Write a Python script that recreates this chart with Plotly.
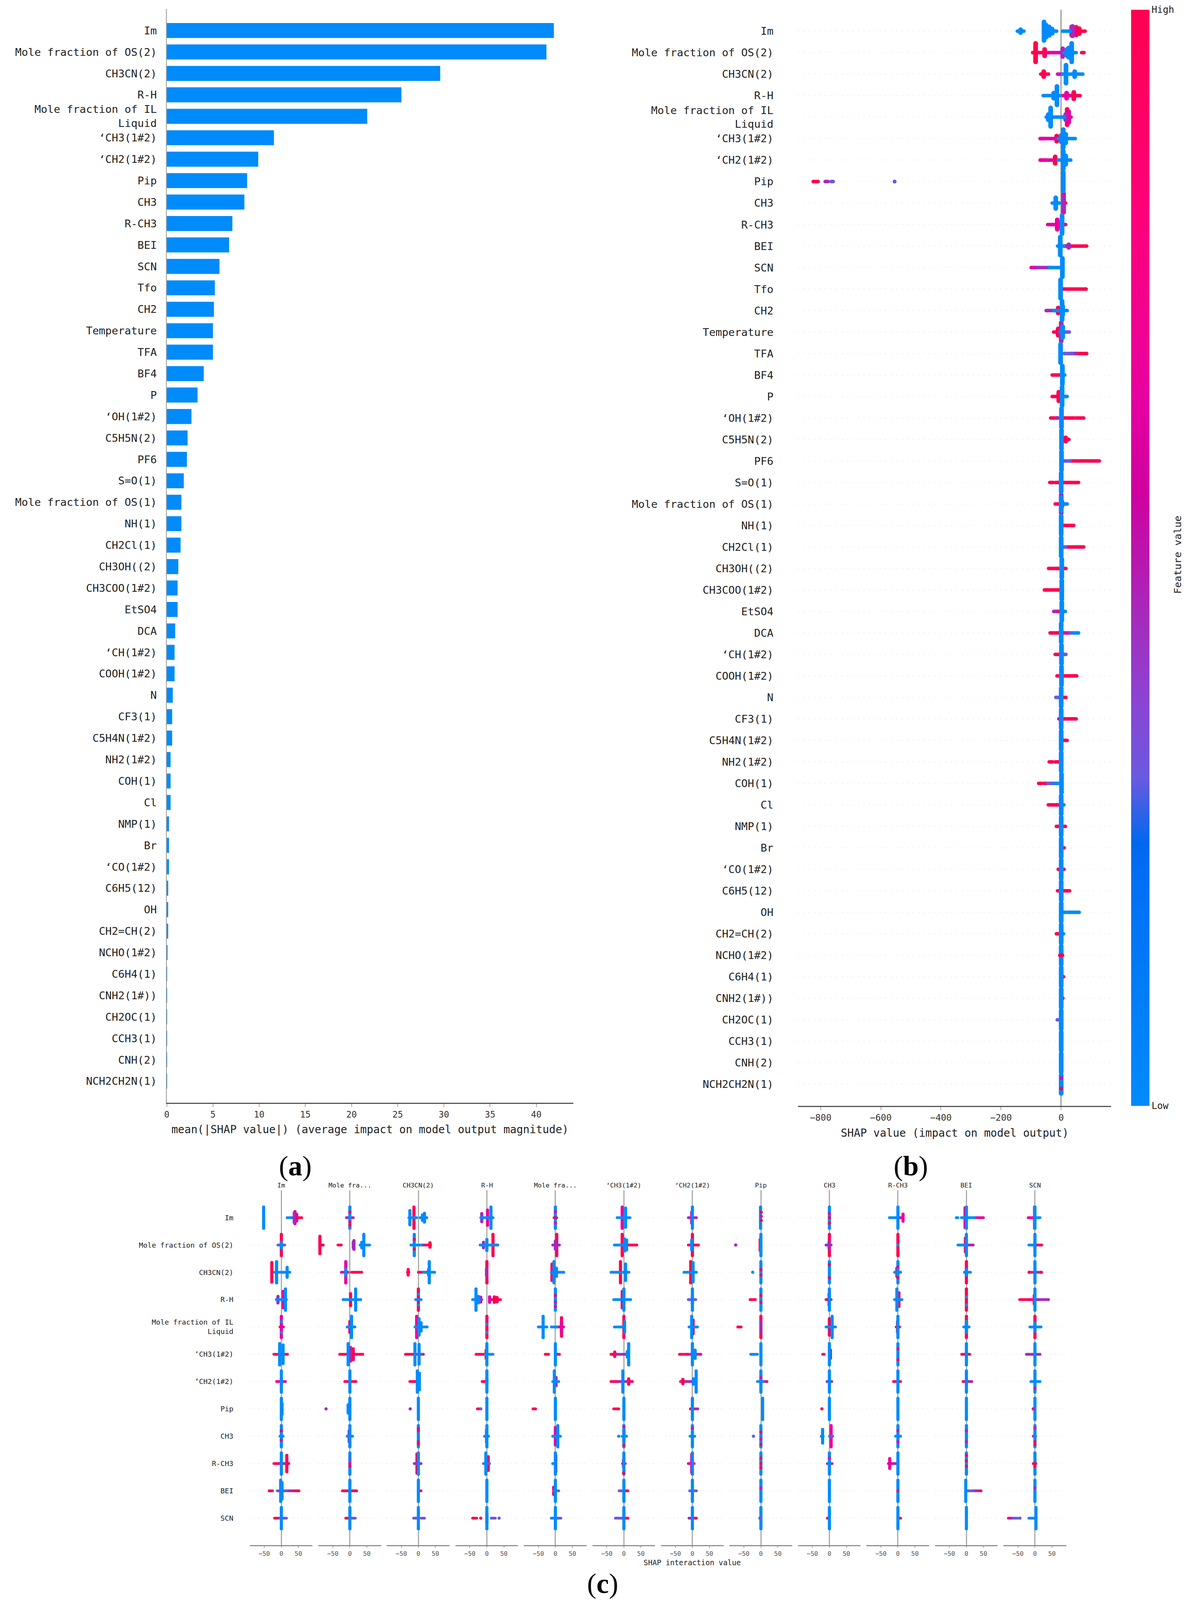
import plotly.graph_objects as go
import plotly.colors as pc

# reference size: every domain below is a fraction of this, the page itself fills the window
W, H = 3057, 5636
MONO = "DejaVu Sans Mono"
SERIF = "Liberation Serif"
BLUE = "#008bfb"

features = ["Im", "Mole fraction of OS(2)", "CH3CN(2)", "R-H", "Mole fraction of IL<br>Liquid",
            "‘CH3(1#2)", "‘CH2(1#2)", "Pip", "CH3", "R-CH3", "BEI", "SCN", "Tfo", "CH2", "Temperature",
            "TFA", "BF4", "P", "‘OH(1#2)", "C5H5N(2)", "PF6", "S=O(1)", "Mole fraction of OS(1)", "NH(1)",
            "CH2Cl(1)", "CH3OH((2)", "CH3COO(1#2)", "EtSO4", "DCA", "‘CH(1#2)", "COOH(1#2)", "N", "CF3(1)",
            "C5H4N(1#2)", "NH2(1#2)", "COH(1)", "Cl", "NMP(1)", "Br", "‘CO(1#2)", "C6H5(12)", "OH",
            "CH2=CH(2)", "NCHO(1#2)", "C6H4(1)", "CNH2(1#))", "CH2OC(1)", "CCH3(1)", "CNH(2)", "NCH2CH2N(1)"]
mean_shap = [41.9, 41.1, 29.6, 25.4, 21.7, 11.6, 9.9, 8.7, 8.4, 7.1, 6.75, 5.7, 5.2, 5.1, 5.0, 5.0, 4.0, 3.33,
             2.67, 2.25, 2.18, 1.84, 1.58, 1.58, 1.49, 1.25, 1.17, 1.17, 0.91, 0.84, 0.84, 0.65, 0.58, 0.58,
             0.41, 0.41, 0.41, 0.24, 0.24, 0.24, 0.15, 0.15, 0.15, 0.08, 0.03, 0.03, 0.02, 0.02, 0.02, 0.02]
a_ticks = [0, 5, 10, 15, 20, 25, 30, 35, 40]
b_ticks = [-800, -600, -400, -200, 0]
c_ticks = [-50, 0, 50]
c_titles = ["Im", "Mole fra...", "CH3CN(2)", "R-H", "Mole fra...", "‘CH3(1#2)", "‘CH2(1#2)", "Pip", "CH3",
            "R-CH3", "BEI", "SCN"]
c_features = features[:12]

# colormap
feature_scale = [[0, "#008bfb"], [0.2, "#0070f5"], [0.24, "#0068ee"], [0.3, "#6a5ae0"], [0.38, "#9040d0"],
                 [0.43, "#a030c0"], [0.56, "#d000a0"], [0.65, "#e800a0"], [0.82, "#ff0078"], [1, "#ff0051"]]
levels = [1, 0.65, 0.45, 0.3, 0]


# swarm shorthand: S = tall stack of dots (shap value, half spread in rows, feature value)
# R = flat run of dots (from, to, feature value), D = single dot (shap value, row offset, feature value)
def S(x, h, v):
    return ("s", x, h, v)


def R(x0, x1, v):
    return ("r", x0, x1, v)


def D(x, o, v):
    return ("d", x, o, v)


C = [S(0, .43, 0)]

b_swarm = [
    [R(-146, -124, 0), S(-135, .07, 0), S(-57, .43, 0), S(-50, .28, 0), R(-57, -15, 0), S(-40, .2, 0), S(-30, .1, 0),
     R(5, 30, 0), S(35, .2, .45), S(38, .22, .45), R(40, 80, 1), S(50, .18, 1), S(60, .12, 1)],
    [S(-85, .43, 1), R(-95, -50, 1), S(-55, .15, 1), R(-45, -5, .65), S(5, .18, .45), S(35, .43, 0), S(25, .22, 0),
     R(10, 50, 0), S(20, .15, 0), R(68, 76, 1)],
    [R(-68, -42, 1), S(-58, .12, 1), R(-12, 2, .65), S(16, .42, 0), R(3, 72, 0), S(45, .12, 0)],
    [S(-14, .43, 0), R(-60, -5, 0), S(-25, .12, 0), R(5, 30, .65), S(18, .12, .65), R(30, 63, 1), S(42, .15, 1)],
    [S(-35, .43, 0), R(-50, 10, 0), S(-43, .12, 0), S(20, .36, 1), R(5, 33, 1), S(25, .25, .65), S(15, .12, .45)],
    [R(-70, -20, .65), R(-70, -55, 1), S(-15, .12, 1), S(7, .42, 0), R(-10, 47, 0), S(15, .2, 0), S(0, .15, 0)],
    [R(-70, -30, .65), R(-70, -50, 1), S(-20, .15, 1), S(7, .42, 0), R(-10, 32, 0), S(15, .2, 0)],
    [R(-825, -808, 1), R(-785, -775, .45), R(-765, -758, .3), D(-554, 0, .3), S(7, .43, 0)],
    [S(-18, .25, 0), R(-30, -5, 0), S(8, .43, .65), S(8, .3, .45), R(5, 15, 1)],
    [R(-45, -15, .65), S(-13, .22, .65), S(-12, .1, 1), S(3, .42, 0), R(5, 15, 1)],
    [S(-3, .42, 0), R(-12, 10, 0), R(10, 85, 1), R(10, 30, .65), S(25, .06, .45)],
    [R(-100, -85, .65), R(-85, -40, .45), R(-40, 0, 0), S(4, .43, 0)],
    [S(-2, .43, 0), R(5, 83, 1)],
    [R(-50, -25, .45), R(-25, -10, 0), S(-10, .12, 1), S(3, .43, 0), R(0, 20, 0), S(5, .2, 0)],
    [S(0, .43, .45), R(-25, -5, 1), S(-10, .15, 1), S(5, .25, 0), R(-5, 27, .3)],
    [S(-2, .43, 0), R(10, 35, .3), R(35, 50, .45), R(50, 85, 1)],
    [R(-30, -5, 1), S(4, .42, 0), R(0, 12, 0)],
    [R(-30, -5, 1), S(-8, .2, 1), S(3, .43, 0), R(0, 20, 0)],
    [R(-35, -15, 1), R(-15, -3, .45), S(1, .43, 0), R(8, 43, 1), R(50, 75, 1)],
    [S(1, .43, 0), R(2, 26, 1), S(15, .08, 1)],
    [S(1, .43, 0), R(8, 20, .3), R(25, 30, .3), R(32, 127, 1)],
    [R(-38, -27, 1), R(-20, -8, 1), S(0, .43, 0), R(8, 58, 1)],
    [S(0, .43, .45), S(0, .3, 0), R(-20, 12, 1), R(12, 20, 0), S(2, .12, 1)],
    [S(0, .43, 0), R(8, 42, 1)],
    [S(0, .43, 0), R(8, 15, .3), R(15, 75, 1)],
    [R(-42, -3, 1), S(2, .43, 0), R(8, 16, 1)],
    [R(-56, -45, 1), R(-45, -3, 1), S(2, .43, 0)],
    [R(-25, -15, .45), R(-15, -3, 1), S(2, .43, 0), R(5, 14, 0)],
    [R(-37, -5, 1), S(0, .43, 0), R(8, 22, .65), R(22, 28, .45), R(32, 40, .3), R(42, 58, 0)],
    [R(-20, -3, 1), S(1, .43, 0), R(8, 16, .3)],
    [R(-14, -3, 1), S(1, .43, 0), R(8, 52, 1)],
    [R(-18, -6, .3), S(0, .43, 0), R(5, 16, 1)],
    [S(0, .43, 0), R(8, 50, 1), R(-8, -5, .65)],
    [S(0, .43, 0), R(6, 20, 1)],
    [R(-40, -28, 1), R(-20, -1, 1), S(0, .43, 0)],
    [R(-75, -65, 1), R(-58, -45, 1), R(-45, -20, .3), R(-20, -5, 0), S(1, .43, 0)],
    [R(-43, -7, 1), S(0, .43, 0), R(8, 9, 0)],
    [R(-16, -8, 1), S(0, .43, 0), R(-3, 14, 1)],
    [S(0, .43, 0), R(6, 10, 1)],
    [R(-10, -7, 1), S(0, .43, 0), R(7, 10, .45)],
    [R(-12, -7, 1), S(0, .43, 0), R(6, 28, 1)],
    [S(0, .43, 0), R(8, 60, 0), R(25, 38, 1)],
    [R(-16, -5, 1), S(0, .43, 0), R(5, 8, 0)],
    [S(0, .43, 0), D(-4, 0, 1), D(4, 0, 1), D(0, 0, 1)],
    [S(0, .43, 0), R(6, 8, 1)],
    [S(0, .43, 0), R(5, 6, .65)],
    [S(0, .43, 0), R(-13, -11, .3)],
    C,
    C,
    [S(0, .43, 0), D(0, .2, 1), D(0, -.28, .65)],
]

F = S(0, .39, 0)

# rows are the features of panel (c), one list per column
c_swarm = [
    [[S(-52, .39, 0), R(17, 30, 0), S(38, .18, .45), S(40, .22, .65), R(30, 60, 1), S(45, .12, 1)],
     [F, D(0, -.2, 1), D(0, .15, 1), D(0, .28, 1), R(-10, 10, .45)],
     [S(-13, .39, 1), S(-25, .26, 0), R(-28, -5, 0), S(18, .16, 0), S(12, .1, 0), R(5, 25, 0)],
     [S(12, .39, 0), S(2, .28, .65), S(-15, .15, .45), R(-18, 18, 0)],
     [F, D(0, 0, 1), D(0, -.22, .65), D(0, .2, .65), R(-4, 4, 1)],
     [S(-5, .39, .65), S(5, .35, 0), R(-20, 18, 0)],
     [F, R(-12, 12, .45), S(-2, .2, .65)],
     [S(-1, .39, 0), D(1, -.2, 1), D(1, .1, 1), D(1, -.05, .65)],
     [F, D(0, -.15, .65), D(0, 0, 1), D(0, .2, 1)],
     [F, R(-25, -5, 0), R(5, 15, .65), S(15, .13, .65), S(15, .08, 1)],
     [F, S(-4, .36, .65), R(-30, -25, 0), R(-15, 25, 0), R(25, 50, .65)],
     [F, S(-1, .39, .65), R(-20, -2, .65), R(2, 15, 0)]],
    [[S(0, .39, 1), R(-10, 10, .3), S(0, .1, 0)],
     [S(-88, .32, 1), R(-88, -78, 1), R(-35, -25, 1), S(12, .16, .45), S(10, .1, .45), S(41, .39, 0), R(30, 58, 0),
      S(35, .1, 0)],
     [S(-12, .39, 0), D(-12, -.2, 1), D(-12, .15, 1), R(-22, 10, 0), R(10, 36, 1), S(34, .08, 1)],
     [S(18, .39, 1), S(0, .2, 0), R(-20, 32, 0), S(-10, .1, .45), R(20, 32, 1)],
     [S(4, .39, 1), S(0, .15, .45), R(-8, 12, .45)],
     [S(-5, .39, 1), S(2, .22, 0), S(8, .18, 0), R(-28, 0, 0), R(15, 38, 1)],
     [S(0, .39, 1), S(-2, .18, 0), R(-12, 18, 1)],
     [D(-74, 0, .45), F, S(-2, .2, 1)],
     [S(0, .39, 1), S(-1, .12, .45), R(-10, 5, .45)],
     [S(0, .39, 1), D(0, 0, 0)],
     [F, S(-3, .25, 1), R(-25, 0, 0), R(0, 20, .45)],
     [F, S(0, .12, 1), R(-18, 0, 0), R(5, 20, 1)]],
    [[S(-28, .36, 1), S(-14, .39, 0), R(-20, 5, 0), S(17, .18, 0), R(8, 25, 0)],
     [S(-12, .39, .65), R(-25, -5, .65), R(5, 35, 1), S(-12, .1, 0)],
     [R(-32, -28, 1), S(-30, .1, 1), R(0, 30, 1), S(32, .39, 0), R(15, 48, 0), S(30, .1, 0)],
     [S(0, .39, 1), S(-1, .12, .45)],
     [S(-4, .39, 0), S(-10, .3, 1), S(3, .15, 0), R(-12, 25, 0)],
     [S(-10, .39, 1), S(5, .3, 0), R(-38, 15, 0)],
     [S(-5, .39, 1), S(2, .35, 0), R(-25, 12, 0)],
     [F, D(-24, 0, 0), D(0, -.1, 1), D(0, .1, 1)],
     [F, D(0, -.28, 1), D(0, .2, 1)],
     [F, S(-3, .15, 1), R(-10, 8, 0), D(0, -.2, .65), D(0, .2, 1)],
     [S(0, .39, 1), S(0, .1, 0), R(-6, 12, 0)],
     [F, R(-18, 20, .45), D(-16, 0, 1), D(18, 0, 1)]],
    [[S(12, .39, 0), S(5, .3, .65), S(-10, .12, .45), R(-15, 15, 0)],
     [S(17, .39, 0), S(2, .22, 1), R(-20, 32, 0)],
     [S(0, .39, 1), R(-8, 8, 0), D(0, -.2, 0), D(0, .2, 0)],
     [S(-32, .39, 0), R(-42, -22, 0), S(-25, .12, 0), R(-22, -15, .45), S(-18, .09, .45), S(8, .1, .65), R(10, 40, 1),
      S(22, .1, 1), S(30, .08, 1)],
     [F, D(0, -.15, 1), D(0, .1, .65), D(0, .25, .65)],
     [F, S(-5, .3, 1), R(-30, 20, 0)],
     [F, S(0, .15, .65), R(-12, 10, .3)],
     [F, R(-32, -16, 1), D(0, .1, 1), D(0, -.15, 1)],
     [F, S(-1, .2, .65), R(-10, 5, 1)],
     [S(-3, .39, 0), S(3, .25, 1), R(-10, 12, 0)],
     [S(0, .39, 1), D(0, -.1, 0), D(0, .2, 0)],
     [F, S(-2, .15, 1), R(-45, -15, 1), R(-15, 10, .65), R(10, 40, .45)]],
    [[S(0, .39, .65), D(0, -.2, 0), D(0, .2, 0), R(-4, 6, 1)],
     [S(5, .39, 0), S(0, .2, 1), R(-8, 15, 0)],
     [S(-5, .39, .65), S(2, .3, 0), S(8, .15, 0), R(-10, 26, 0)],
     [S(0, .39, 1), D(0, -.1, 0), D(0, .2, 0)],
     [S(-36, .39, 0), R(-50, -25, 0), R(-12, 5, 0), S(18, .34, 1), S(18, .2, .65), R(5, 24, 1)],
     [S(0, .39, 1), S(2, .2, 0), R(-28, -5, 0)],
     [S(-2, .39, 0), S(2, .25, 1), R(-10, 15, 0)],
     [R(-68, -58, 1), S(0, .39, 1), S(0, .2, .45)],
     [S(8, .39, 0), S(0, .3, 1), R(-10, 18, 0)],
     [F, S(-1, .2, 1), R(-5, 5, 1)],
     [S(0, .39, 1), S(0, .2, 0), R(-8, 8, 0)],
     [S(0, .39, 1), S(0, .15, 0), R(-15, 18, 0)]],
    [[S(-5, .39, 0), S(5, .34, 0), R(-22, 18, 1)],
     [S(-5, .39, 0), S(10, .2, 1), S(2, .25, .45), R(-30, 38, 1)],
     [S(-10, .39, 0), S(2, .36, 0), R(-38, -10, 1), R(-10, 15, .45)],
     [F, S(-2, .15, 1), R(-32, -5, 1), R(-5, 18, 0)],
     [F, R(-30, -20, 1), R(5, 12, 1)],
     [S(14, .39, 0), S(10, .1, 0), R(-38, -22, 1), S(-27, .08, 1), R(-22, 5, .45)],
     [F, S(0, .1, 0), R(-38, -15, 1), R(-15, 25, .65), S(8, .15, 0)],
     [F, R(-30, -10, 0)],
     [F, S(3, .15, 1), R(-20, -15, .65)],
     [F, D(0, -.2, 1), D(0, .2, 1)],
     [F, R(-14, 10, 1), S(0, .05, 0)],
     [F, R(-25, 15, .45)]],
    [[F, R(-14, 12, .65), S(0, .1, 0)],
     [F, R(-15, 18, 1)],
     [S(-3, .39, 0), S(3, .3, 0), R(-25, -5, 1)],
     [F, R(-14, -5, 1), S(0, .1, 0)],
     [S(-3, .39, 0), S(2, .15, .45), R(-8, 10, 0)],
     [S(-3, .39, 0), R(-38, -15, 1), R(-15, 10, .45), R(10, 25, 1), S(14, .1, 1)],
     [S(11, .39, 0), S(-28, .08, 1), R(-35, -20, 1), R(-20, 5, .45), S(3, .1, 0)],
     [F, S(0, .1, 0), R(-10, 8, 0), R(8, 18, 1), D(0, -.15, .65)],
     [F, R(-7, 7, .45)],
     [F, R(-13, 8, 1)],
     [F, R(-10, 5, 1), R(5, 16, .45)],
     [F, R(-12, 15, 0), D(0, .25, .65)]],
    [[F, S(2, .2, 0)],
     [D(-70, 0, .45), F, S(-5, .15, 0)],
     [D(-24, 0, .45), F],
     [R(-28, -18, 1), D(-18, 0, .3), F],
     [R(-66, -58, 1), F],
     [R(-30, -15, 1), F],
     [R(-6, -2, 1), R(6, 16, .45), F],
     [S(5, .39, 0)],
     [D(-22, 0, 1), F],
     [F],
     [F],
     [F, D(-5, 0, .65)]],
    [[F, D(0, -.2, 1), D(0, .15, .65), R(-4, 5, 0)],
     [F, S(-2, .2, .65), R(-8, 8, 0)],
     [F, D(0, -.28, 1), D(0, -.2, .65), D(0, .2, .65), D(0, .28, 1)],
     [F, S(-1, .22, .45), R(-7, 5, 0)],
     [S(7, .39, 0), S(0, .32, .65), R(-8, 15, 0)],
     [F, S(0, .2, .65), R(-16, -14, 0), R(-5, 8, 0), D(0, .33, 1), D(0, -.35, .65)],
     [F, R(-7, 7, 0), D(0, -.3, .65)],
     [F, D(-22, 0, .3), D(0, -.15, 1), D(0, .1, .65), D(0, .3, 1)],
     [S(-20, .25, 0), R(-24, -18, 0), S(5, .39, .65), R(0, 10, 0), D(5, 0, .3)],
     [F, D(0, -.2, .65), R(-7, 8, 0), D(0, .2, .65)],
     [F, D(0, -.2, .65), D(0, .2, .45)],
     [F, R(-5, 2, .45), D(0, .2, 1), D(0, -.3, .65), D(0, .3, 1)]],
    [[F, R(-22, -5, 1), R(-5, 12, .45), S(16, .3, 1), R(10, 22, 1)],
     [F, D(0, 0, .65), D(0, -.15, .3), D(0, .1, 1)],
     [F, S(-4, .35, 1), R(-12, 8, .45)],
     [S(-3, .39, 0), S(4, .25, 1), R(-10, 8, .3)],
     [F, S(1, .3, .65), R(-8, 1, 0)],
     [F, S(-1, .12, 1), D(-1, .35, 1), R(-4, 4, .65)],
     [F, S(-2, .33, .65), R(-12, 5, .65)],
     [F, D(0, -.2, 1), D(0, 0, 1), D(0, .15, 1)],
     [F, R(-6, 8, .45), D(0, -.2, .65)],
     [F, S(-24, .18, .65), R(-28, -14, 1), R(-14, 0, .45)],
     [F, D(0, -.3, 1), D(0, -.1, 1), D(0, .1, 1)],
     [F, R(-5, 3, 1), D(0, 0, 1), D(0, .1, 1)]],
    [[S(-2, .39, 0), S(2, .3, 0), R(-36, -26, 1), R(-12, 15, .3), R(15, 30, .45), R(30, 52, 1)],
     [F, R(-22, -5, 1), R(-5, 5, .45), R(5, 20, 1)],
     [F, R(0, 8, 1)],
     [F],
     [F, S(-5, .13, 1), R(-5, 10, .3)],
     [F, R(-14, -2, .3), R(2, 12, 1)],
     [F, R(-8, 12, .3)],
     [F, D(0, -.1, .65)],
     [F],
     [F, D(0, 0, 1)],
     [S(-2, .39, 0), R(2, 20, .3), R(20, 35, .45), R(35, 43, 1)],
     [F, D(0, -.1, .45)]],
    [[F, R(-20, -5, 1), R(-5, 15, .3)],
     [F, R(-12, -3, 1), R(5, 16, .3)],
     [F, R(-14, -5, .3), R(-3, 3, .65), R(10, 18, .3)],
     [F, S(0, .18, 0), R(-42, -30, 1), D(-18, 0, 1), R(13, 25, .3), D(36, 0, .3)],
     [F, R(-12, -6, 0), R(4, 16, .3)],
     [F, R(-25, -5, .3), R(2, 12, 1)],
     [F, R(-10, -3, .45), R(3, 12, 1)],
     [F, D(-3, 0, .3)],
     [F, R(-6, -3, 1)],
     [F, R(2, 8, 1)],
     [F],
     [S(3, .39, 0), R(-78, -65, .65), R(-65, -50, .3), D(-44, 0, .3), R(-18, 0, 0)]],
]


def dx(left, right):
    return [left / W, right / W]


def dy(top, bottom):
    return [1 - bottom / H, 1 - top / H]


def add_swarm(fig, rows, xa, ya, w_stack, w_run, dot, scale_bar=False):
    # one capsule per stack or run; marker at both ends makes the caps round
    for lvl in levels:
        col = pc.sample_colorscale(feature_scale, [lvl])[0]
        for kind, width in (("r", w_run), ("s", w_stack)):
            xs, ys = [], []
            for r, marks in enumerate(rows):
                for m in marks:
                    if m[0] != kind or m[3] != lvl:
                        continue
                    if kind == "s":
                        xs += [m[1], m[1], None]
                        ys += [r - m[2], r + m[2], None]
                    else:
                        xs += [m[1], m[2], None]
                        ys += [r, r, None]
            if xs:
                fig.add_trace(go.Scatter(x=xs, y=ys, xaxis=xa, yaxis=ya, mode="lines+markers",
                                         line=dict(color=col, width=width),
                                         marker=dict(color=col, size=width, line_width=0),
                                         hoverinfo="skip", showlegend=False))
    pts = [(r, m) for r, marks in enumerate(rows) for m in marks if m[0] == "d"]
    marker = dict(color=[p[1][3] for p in pts], colorscale=feature_scale, cmin=0, cmax=1, size=dot, line_width=0)
    if scale_bar:
        marker.update(showscale=True, colorbar=dict(
            x=2896 / W, xanchor="left", xpad=0, y=1 - 34 / H, yanchor="top", ypad=0,
            thickness=47, thicknessmode="pixels", len=3861 / H, lenmode="fraction", outlinewidth=0,
            tickvals=[0, 1], ticktext=["Low", "High"], ticks="", ticklabelposition="outside",
            tickfont=dict(family=MONO, size=24, color="#222")))
    fig.add_trace(go.Scatter(x=[p[1][1] for p in pts], y=[p[0] + p[1][2] for p in pts], xaxis=xa, yaxis=ya,
                             mode="markers", marker=marker, hoverinfo="skip", showlegend=False))


fig = go.Figure()

# (a) bars
fig.add_trace(go.Bar(x=mean_shap, y=list(range(len(features))), orientation="h", width=0.7,
                     marker=dict(color=BLUE, line_width=0), xaxis="x", yaxis="y", showlegend=False))

# (b) summary swarm
add_swarm(fig, b_swarm, "x2", "y2", 12, 9, 10, scale_bar=True)

layout = dict(
    autosize=True, margin=dict(l=0, r=0, t=0, b=0, pad=0),
    paper_bgcolor="white", plot_bgcolor="white", showlegend=False,
    xaxis=dict(domain=dx(421, 1464), range=[0, 44], anchor="y", tickvals=a_ticks, ticks="outside", ticklen=8,
               tickcolor="#555", showline=True, linecolor="#555", linewidth=3, showgrid=False, zeroline=False,
               tickfont=dict(family=MONO, size=22.4, color="#333"),
               title=dict(text="mean(|SHAP value|) (average impact on model output magnitude)", standoff=18,
                          font=dict(family=MONO, size=27.7, color="#222"))),
    yaxis=dict(domain=dy(32, 3884), range=[50, -1], anchor="x", tickvals=list(range(len(features))),
               ticktext=features, ticks="", showline=True, linecolor="#999", linewidth=2, showgrid=False,
               zeroline=False, ticklabelstandoff=18, tickfont=dict(family=MONO, size=27.4, color="#222")),
    xaxis2=dict(domain=dx(2041, 2845), range=[-875, 167], anchor="y2", tickvals=b_ticks, ticks="outside", ticklen=8,
                tickcolor="#555", showline=True, linecolor="#555", linewidth=3, showgrid=False, zeroline=True,
                zerolinecolor="#999", zerolinewidth=3, tickfont=dict(family=MONO, size=23, color="#333"),
                title=dict(text="SHAP value (impact on model output)", standoff=18,
                           font=dict(family=MONO, size=27.7, color="#222"))),
    yaxis2=dict(domain=dy(34, 3895), range=[50, -1], anchor="x2", tickvals=list(range(len(features))),
                ticktext=features, ticks="", showline=False, showgrid=True, gridcolor="#cccccc", gridwidth=1,
                griddash="2px,12px", zeroline=False, ticklabelstandoff=62,
                tickfont=dict(family=MONO, size=27.4, color="#222")),
    yaxis3=dict(domain=dy(4193, 5444), range=[12, -1], anchor="x3", tickvals=list(range(len(c_features))),
                ticktext=c_features, ticks="", showline=False, showgrid=True, gridcolor="#cccccc", gridwidth=1,
                griddash="2px,9px", zeroline=False, ticklabelstandoff=41,
                tickfont=dict(family=MONO, size=18.3, color="#222")),
)

# (c) interaction grid, one x axis per column
annotations = []
for col in range(12):
    name = "x%d" % (col + 3)
    zero = 715 + col * 175.8
    cells = [row[col] for row in c_swarm]
    add_swarm(fig, cells, name, "y3", 8, 7, 8)
    axis = dict(domain=dx(zero - 81, zero + 80), range=[-92.7, 91.6], anchor="y3", tickvals=c_ticks, ticks="outside",
                ticklen=5, tickcolor="#666", showline=True, linecolor="#666", linewidth=2, showgrid=False,
                zeroline=True, zerolinecolor="#aaa", zerolinewidth=3,
                tickfont=dict(family=MONO, size=16, color="#555"))
    if col == 6:
        axis["title"] = dict(text="SHAP interaction value", standoff=8, font=dict(family=MONO, size=18.8, color="#222"))
    layout["xaxis%d" % (col + 3)] = axis
    annotations.append(dict(text=c_titles[col], xref=name, x=0, yref="paper", y=1 - 4175 / H, showarrow=False,
                            xanchor="center", yanchor="middle", font=dict(family=MONO, size=16.6, color="#222")))

annotations.append(dict(text="Feature value", xref="paper", yref="paper", x=3015 / W, y=1 - 1954 / H, textangle=-90,
                        showarrow=False, xanchor="center", yanchor="middle",
                        font=dict(family=MONO, size=25.6, color="#222")))

for tag, px, py in (("a", 751, 4107), ("b", 2330, 4107), ("c", 1540, 5578)):
    annotations.append(dict(text="(<b>%s</b>)" % tag, xref="paper", yref="paper", x=px / W, y=1 - py / H,
                            showarrow=False, xanchor="center", yanchor="middle",
                            font=dict(family=SERIF, size=72, color="black")))
layout["annotations"] = annotations

fig.update_layout(**layout)
# page fills the browser window, whatever its real height turns out to be
fig.write_html("out.html", config={"displayModeBar": False, "responsive": True},
               default_width="100vw", default_height="100vh",
               post_script="document.body.style.margin='0';document.documentElement.style.overflow='hidden';"
                           "Plotly.Plots.resize(document.getElementById('{plot_id}'));")
